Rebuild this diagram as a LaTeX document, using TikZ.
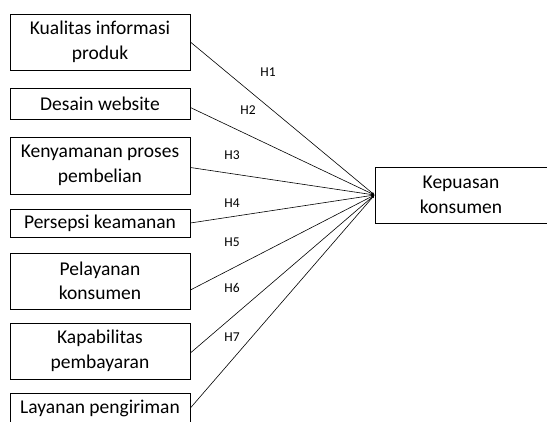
\documentclass[tikz,border=0pt]{standalone}
\usepackage{fontspec}
\setmainfont{Carlito}
\usetikzlibrary{arrows.meta}
\begin{document}
\begin{tikzpicture}[x=1pt,y=-1pt,
    var/.style={draw,line width=0.8pt,align=center,minimum width=180pt,inner sep=0pt,
        font=\fontsize{19.5}{24.5}\selectfont},
    hyp/.style={font=\fontsize{13.5}{15}\selectfont},
    path/.style={line width=0.6pt,-{Latex[length=3pt,width=2.5pt]}}]
        \useasboundingbox (0,0) rectangle (547,421);
        \node [var,minimum height=56pt] (kualitas) at (100,42) {Kualitas informasi\\produk};
        \node [var,minimum height=31pt] (desain) at (100,103.5) {Desain website};
        \node [var,minimum height=57pt] (kenyamanan) at (100,165.5) {Kenyamanan proses\\pembelian};
        \node [var,minimum height=28pt] (keamanan) at (100,223) {Persepsi keamanan};
        \node [var,minimum height=56pt] (pelayanan) at (100,281) {Pelayanan\\konsumen};
        \node [var,minimum height=56pt] (kapabilitas) at (100,351) {Kapabilitas\\pembayaran};
        \node [var,minimum height=30pt] (pengiriman) at (100,408) {Layanan pengiriman};
        \node [var,minimum height=56pt,minimum width=172pt] (kepuasan) at (461,195) {Kepuasan\\konsumen};
        \draw [path] (kualitas.east) -- (kepuasan.west);
        \draw [path] ([yshift=-4pt]desain.east) -- (kepuasan.west);
        \draw [path] ([yshift=-2pt]kenyamanan.east) -- (kepuasan.west);
        \draw [path] (keamanan.east) -- (kepuasan.west);
        \draw [path] ([yshift=-9pt]pelayanan.east) -- (kepuasan.west);
        \draw [path] ([yshift=-2pt]kapabilitas.east) -- (kepuasan.west);
        \draw [path] (pengiriman.east) -- (kepuasan.west);
        \node [hyp] (h1) at (268,72) {H1};
        \node [hyp] (h2) at (248,110) {H2};
        \node [hyp] (h3) at (232,155) {H3};
        \node [hyp] (h4) at (232,203) {H4};
        \node [hyp] (h5) at (232,242) {H5};
        \node [hyp] (h6) at (232,288) {H6};
        \node [hyp] (h7) at (232,337) {H7};
    \end{tikzpicture}
\end{document}
